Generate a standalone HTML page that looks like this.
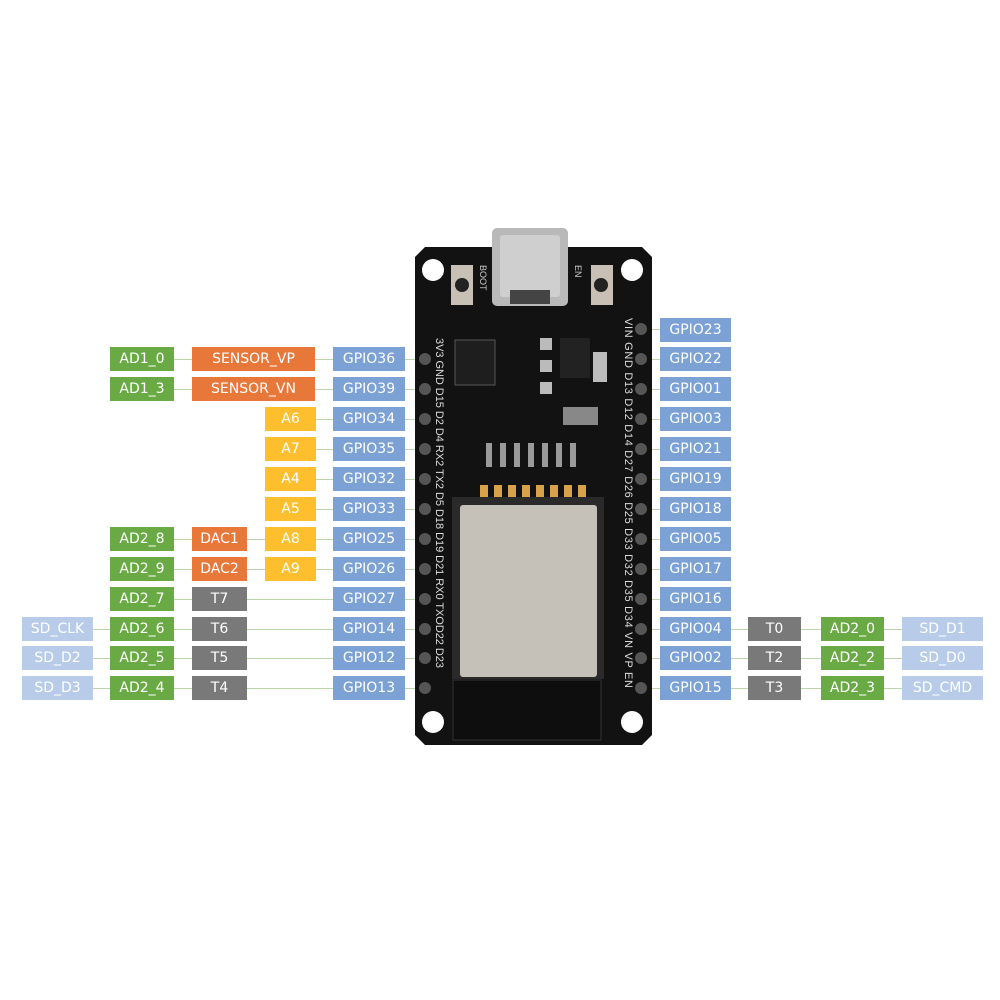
<!DOCTYPE html>
<html><head><meta charset="utf-8"><style>
body{margin:0;background:#fff;}
#c{position:relative;width:1000px;height:1000px;overflow:hidden;font-family:"DejaVu Sans","Liberation Sans",sans-serif;}
.b{position:absolute;height:24px;line-height:25px;color:#fff;font-size:14px;text-align:center;}
.g{background:#6aaa45}.o{background:#e8773a}.y{background:#fdbf2d}.bl{background:#7ba1d5}.gr{background:#797979}.sd{background:#b8cce9}
.l{position:absolute;height:1px;background:#bcd6a9;}
</style></head><body><div id="c">
<div class="l" style="left:174px;width:486px;top:359px"></div>
<div class="l" style="left:174px;width:486px;top:389px"></div>
<div class="l" style="left:316px;width:344px;top:419px"></div>
<div class="l" style="left:316px;width:344px;top:449px"></div>
<div class="l" style="left:316px;width:344px;top:479px"></div>
<div class="l" style="left:316px;width:344px;top:509px"></div>
<div class="l" style="left:174px;width:486px;top:539px"></div>
<div class="l" style="left:174px;width:486px;top:569px"></div>
<div class="l" style="left:174px;width:486px;top:599px"></div>
<div class="l" style="left:93px;width:567px;top:629px"></div>
<div class="l" style="left:93px;width:567px;top:658px"></div>
<div class="l" style="left:93px;width:567px;top:688px"></div>
<div class="l" style="left:640px;width:270px;top:629px"></div>
<div class="l" style="left:640px;width:270px;top:658px"></div>
<div class="l" style="left:640px;width:270px;top:688px"></div>
<div class="l" style="left:640px;width:20px;top:329px"></div>
<div class="b g" style="left:110px;width:64px;top:347px">AD1_0</div>
<div class="b o" style="left:192px;width:123px;top:347px">SENSOR_VP</div>
<div class="b bl" style="left:333px;width:72px;top:347px">GPIO36</div>
<div class="b g" style="left:110px;width:64px;top:377px">AD1_3</div>
<div class="b o" style="left:192px;width:123px;top:377px">SENSOR_VN</div>
<div class="b bl" style="left:333px;width:72px;top:377px">GPIO39</div>
<div class="b y" style="left:265px;width:51px;top:407px">A6</div>
<div class="b bl" style="left:333px;width:72px;top:407px">GPIO34</div>
<div class="b y" style="left:265px;width:51px;top:437px">A7</div>
<div class="b bl" style="left:333px;width:72px;top:437px">GPIO35</div>
<div class="b y" style="left:265px;width:51px;top:467px">A4</div>
<div class="b bl" style="left:333px;width:72px;top:467px">GPIO32</div>
<div class="b y" style="left:265px;width:51px;top:497px">A5</div>
<div class="b bl" style="left:333px;width:72px;top:497px">GPIO33</div>
<div class="b g" style="left:110px;width:64px;top:527px">AD2_8</div>
<div class="b o" style="left:192px;width:55px;top:527px">DAC1</div>
<div class="b y" style="left:265px;width:51px;top:527px">A8</div>
<div class="b bl" style="left:333px;width:72px;top:527px">GPIO25</div>
<div class="b g" style="left:110px;width:64px;top:557px">AD2_9</div>
<div class="b o" style="left:192px;width:55px;top:557px">DAC2</div>
<div class="b y" style="left:265px;width:51px;top:557px">A9</div>
<div class="b bl" style="left:333px;width:72px;top:557px">GPIO26</div>
<div class="b g" style="left:110px;width:64px;top:587px">AD2_7</div>
<div class="b gr" style="left:192px;width:55px;top:587px">T7</div>
<div class="b bl" style="left:333px;width:72px;top:587px">GPIO27</div>
<div class="b sd" style="left:22px;width:71px;top:617px">SD_CLK</div>
<div class="b g" style="left:110px;width:64px;top:617px">AD2_6</div>
<div class="b gr" style="left:192px;width:55px;top:617px">T6</div>
<div class="b bl" style="left:333px;width:72px;top:617px">GPIO14</div>
<div class="b sd" style="left:22px;width:71px;top:646px">SD_D2</div>
<div class="b g" style="left:110px;width:64px;top:646px">AD2_5</div>
<div class="b gr" style="left:192px;width:55px;top:646px">T5</div>
<div class="b bl" style="left:333px;width:72px;top:646px">GPIO12</div>
<div class="b sd" style="left:22px;width:71px;top:676px">SD_D3</div>
<div class="b g" style="left:110px;width:64px;top:676px">AD2_4</div>
<div class="b gr" style="left:192px;width:55px;top:676px">T4</div>
<div class="b bl" style="left:333px;width:72px;top:676px">GPIO13</div>
<div class="b bl" style="left:660px;width:71px;top:318px">GPIO23</div>
<div class="b bl" style="left:660px;width:71px;top:347px">GPIO22</div>
<div class="b bl" style="left:660px;width:71px;top:377px">GPIO01</div>
<div class="b bl" style="left:660px;width:71px;top:407px">GPIO03</div>
<div class="b bl" style="left:660px;width:71px;top:437px">GPIO21</div>
<div class="b bl" style="left:660px;width:71px;top:467px">GPIO19</div>
<div class="b bl" style="left:660px;width:71px;top:497px">GPIO18</div>
<div class="b bl" style="left:660px;width:71px;top:527px">GPIO05</div>
<div class="b bl" style="left:660px;width:71px;top:557px">GPIO17</div>
<div class="b bl" style="left:660px;width:71px;top:587px">GPIO16</div>
<div class="b bl" style="left:660px;width:71px;top:617px">GPIO04</div>
<div class="b gr" style="left:748px;width:53px;top:617px">T0</div>
<div class="b g" style="left:821px;width:63px;top:617px">AD2_0</div>
<div class="b sd" style="left:902px;width:81px;top:617px">SD_D1</div>
<div class="b bl" style="left:660px;width:71px;top:646px">GPIO02</div>
<div class="b gr" style="left:748px;width:53px;top:646px">T2</div>
<div class="b g" style="left:821px;width:63px;top:646px">AD2_2</div>
<div class="b sd" style="left:902px;width:81px;top:646px">SD_D0</div>
<div class="b bl" style="left:660px;width:71px;top:676px">GPIO15</div>
<div class="b gr" style="left:748px;width:53px;top:676px">T3</div>
<div class="b g" style="left:821px;width:63px;top:676px">AD2_3</div>
<div class="b sd" style="left:902px;width:81px;top:676px">SD_CMD</div>
<svg style="position:absolute;left:0;top:0" width="1000" height="1000">
<polygon points="425,247 642,247 652,257 652,735 642,745 425,745 415,735 415,257" fill="#121212"/>
<rect x="492" y="228" width="76" height="78" rx="5" fill="#b9b9b9"/>
<rect x="500" y="235" width="60" height="62" rx="3" fill="#cfcfcf"/>
<rect x="510" y="290" width="40" height="14" fill="#444"/>
<circle cx="433" cy="270" r="11" fill="#fff"/><circle cx="632" cy="270" r="11" fill="#fff"/>
<circle cx="433" cy="722" r="11" fill="#fff"/><circle cx="632" cy="722" r="11" fill="#fff"/>
<rect x="451" y="265" width="22" height="40" fill="#c8c0b4"/><circle cx="462" cy="285" r="7" fill="#222"/>
<rect x="591" y="265" width="22" height="40" fill="#c8c0b4"/><circle cx="601" cy="285" r="7" fill="#222"/>
<rect x="455" y="340" width="40" height="45" fill="#1e1e1e" stroke="#555"/>
<rect x="560" y="338" width="30" height="40" fill="#222"/>
<rect x="593" y="352" width="14" height="30" fill="#bbb"/>
<rect x="540" y="338" width="12" height="12" fill="#bbb"/><rect x="540" y="360" width="12" height="12" fill="#bbb"/><rect x="540" y="382" width="12" height="12" fill="#bbb"/>
<rect x="563" y="407" width="35" height="18" fill="#888"/>
<g fill="#9a9a9a"><rect x="486" y="443" width="6" height="24"/><rect x="500" y="443" width="6" height="24"/><rect x="514" y="443" width="6" height="24"/><rect x="528" y="443" width="6" height="24"/><rect x="542" y="443" width="6" height="24"/><rect x="556" y="443" width="6" height="24"/><rect x="570" y="443" width="6" height="24"/></g>
<g fill="#d9a24a"><rect x="480" y="485" width="8" height="12"/><rect x="494" y="485" width="8" height="12"/><rect x="508" y="485" width="8" height="12"/><rect x="522" y="485" width="8" height="12"/><rect x="536" y="485" width="8" height="12"/><rect x="550" y="485" width="8" height="12"/><rect x="564" y="485" width="8" height="12"/><rect x="578" y="485" width="8" height="12"/></g>
<rect x="452" y="497" width="152" height="182" fill="#2a2a2a"/>
<rect x="460" y="505" width="137" height="172" rx="3" fill="#c6c1b8"/>
<rect x="453" y="680" width="148" height="60" fill="#0e0e0e" stroke="#333"/>
<g fill="#555"><circle cx="425" cy="359" r="6"/><circle cx="425" cy="389" r="6"/><circle cx="425" cy="419" r="6"/><circle cx="425" cy="449" r="6"/><circle cx="425" cy="479" r="6"/><circle cx="425" cy="509" r="6"/><circle cx="425" cy="539" r="6"/><circle cx="425" cy="569" r="6"/><circle cx="425" cy="599" r="6"/><circle cx="425" cy="629" r="6"/><circle cx="425" cy="658" r="6"/><circle cx="425" cy="688" r="6"/>
<circle cx="641" cy="329" r="6"/><circle cx="641" cy="359" r="6"/><circle cx="641" cy="389" r="6"/><circle cx="641" cy="419" r="6"/><circle cx="641" cy="449" r="6"/><circle cx="641" cy="479" r="6"/><circle cx="641" cy="509" r="6"/><circle cx="641" cy="539" r="6"/><circle cx="641" cy="569" r="6"/><circle cx="641" cy="599" r="6"/><circle cx="641" cy="629" r="6"/><circle cx="641" cy="658" r="6"/><circle cx="641" cy="688" r="6"/></g>
<text transform="translate(436,338) rotate(90)" fill="#ddd" font-size="11" font-family="Liberation Sans" textLength="330">3V3 GND D15 D2 D4 RX2 TX2 D5 D18 D19 D21 RX0 TXOD22 D23</text>
<text transform="translate(625,318) rotate(90)" fill="#ddd" font-size="11" font-family="Liberation Sans" textLength="370">VIN GND D13 D12 D14 D27 D26 D25 D33 D32 D35 D34 VN VP EN</text>
<text transform="translate(480,265) rotate(90)" fill="#ccc" font-size="9" font-family="Liberation Sans">BOOT</text>
<text transform="translate(575,265) rotate(90)" fill="#ccc" font-size="9" font-family="Liberation Sans">EN</text>
</svg>
</div></body></html>
